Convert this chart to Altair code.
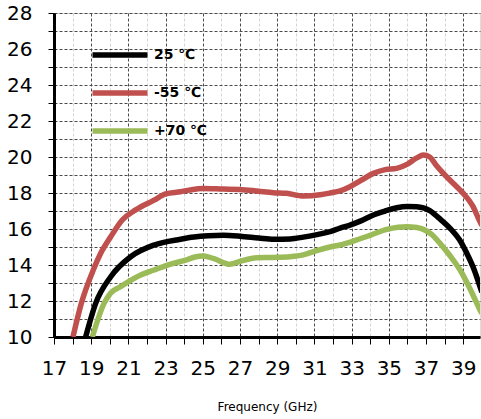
import altair as alt
import pandas as pd

# Gain vs frequency at three temperatures
series = ["25 ℃", "-55 ℃", "+70 ℃"]
colors = ["#000000", "#C0504D", "#9BBB59"]

freq_25 = [18.7, 19.24, 20.05, 21.12, 22.38, 23.8, 24.53, 25.3, 26.1, 27.0, 28.0, 28.8,
           29.7, 30.4, 31.2, 31.84, 32.38, 32.91, 33.5, 34.17, 34.8, 35.42, 36.0, 36.5,
           37.2, 37.7, 38.29, 38.8, 39.19, 39.6, 39.9, 40.0]
gain_25 = [10.0, 11.87, 13.35, 14.46, 15.11, 15.43, 15.55, 15.62, 15.65, 15.6, 15.5, 15.43,
           15.45, 15.55, 15.7, 15.85, 16.05, 16.22, 16.45, 16.78, 17.0, 17.18, 17.25, 17.24,
           17.02, 16.6, 16.04, 15.4, 14.65, 13.7, 12.8, 12.5]

freq_m55 = [18.02, 18.47, 19.11, 19.51, 20.05, 20.67, 21.39, 22.38, 23.0, 23.8, 24.31, 25.0,
            26.1, 27.0, 28.0, 28.8, 29.5, 30.4, 31.3, 31.84, 32.38, 32.91, 33.5, 34.17,
            34.8, 35.42, 36.0, 36.5, 36.86, 37.2, 37.5, 37.93, 38.5, 39.0, 39.5, 39.9, 40.0]
gain_m55 = [10.0, 11.87, 13.72, 14.65, 15.57, 16.5, 17.06, 17.6, 17.95, 18.07, 18.17, 18.25,
            18.22, 18.2, 18.1, 18.02, 17.98, 17.83, 17.9, 18.0, 18.12, 18.35, 18.7, 19.09,
            19.3, 19.37, 19.6, 19.95, 20.11, 20.0, 19.6, 19.09, 18.5, 17.98, 17.3, 16.4, 16.2]

freq_p70 = [19.06, 19.69, 20.05, 20.58, 21.66, 22.38, 23.27, 24.17, 24.53, 25.03, 25.6, 26.46,
            27.0, 27.9, 28.8, 29.69, 30.4, 31.12, 31.84, 32.38, 33.27, 34.0, 34.89, 35.5,
            35.96, 36.5, 36.86, 37.3, 37.75, 38.3, 38.83, 39.4, 39.9, 40.0]
gain_p70 = [10.0, 11.87, 12.45, 12.8, 13.44, 13.72, 14.05, 14.3, 14.43, 14.5, 14.35, 14.04,
            14.2, 14.4, 14.42, 14.46, 14.56, 14.8, 15.0, 15.11, 15.39, 15.65, 15.98, 16.1,
            16.13, 16.08, 15.98, 15.7, 15.2, 14.5, 13.72, 12.6, 11.5, 11.3]

x_ticks = list(range(17, 40))
y_ticks = list(range(10, 29))

frames = []
for name, fx, gy in zip(series, [freq_25, freq_m55, freq_p70], [gain_25, gain_m55, gain_p70]):
    frames.append(pd.DataFrame({"freq": fx, "gain": gy, "series": name}))
df = pd.concat(frames, ignore_index=True)
df["order"] = df.index

FONT = "DejaVu Sans"

x_axis = alt.Axis(
    values=x_ticks,
    labelExpr="datum.value % 2 == 1 ? datum.label : ''",
    labelOverlap=False,
    labelFlush=False,
    labelFontSize=20,
    labelFont=FONT,
    labelColor="black",
    labelPadding=14,
    tickSize=7,
    tickColor="black",
    domainColor="black",
    domainWidth=3,
    grid=True,
    gridColor={"condition": {"test": "datum.value % 2 == 1", "value": "#4a4a4a"}, "value": "#d4d4d4"},
    gridDash=[3, 2],
    gridWidth=1,
    title="Frequency (GHz)",
    titleFont=FONT,
    titleFontSize=12,
    titleFontWeight="normal",
    titleColor="black",
    titleBaseline="alphabetic",
    titleY=73,
)

y_axis = alt.Axis(
    values=y_ticks,
    labelExpr="datum.value % 2 == 0 ? datum.label : ''",
    labelOverlap=False,
    labelFlush=False,
    labelFontSize=20,
    labelFont=FONT,
    labelColor="black",
    labelPadding=16,
    tickSize=6,
    tickColor="black",
    domainColor="black",
    domainWidth=3,
    grid=True,
    gridColor="#4a4a4a",
    gridDash=[3, 2],
    gridWidth=1,
    title=None,
)

chart = alt.Chart(df).mark_line(
    strokeWidth=5.5, interpolate="monotone", clip=True, strokeJoin="round"
).encode(
    x=alt.X("freq:Q", scale=alt.Scale(domain=[17, 39.9], nice=False, zero=False), axis=x_axis),
    y=alt.Y("gain:Q", scale=alt.Scale(domain=[10, 28], nice=False, zero=False), axis=y_axis),
    color=alt.Color(
        "series:N",
        scale=alt.Scale(domain=series, range=colors),
        sort=series,
        legend=alt.Legend(
            title=None,
            orient="none",
            legendX=58,
            legendY=34,
            padding=0,
            symbolType="M-5.5,0L5.5,0",
            symbolSize=100,
            symbolStrokeWidth=5.5,
            labelFont=FONT,
            labelFontSize=14,
            labelFontWeight="bold",
            labelColor="black",
            labelOffset=26,
            rowPadding=16,
        ),
    ),
    order="order:Q",
).properties(
    width=426,
    height=324,
    autosize="none",
    padding={"left": 54, "top": 13, "right": 1, "bottom": 82},
).configure_view(
    stroke="black", strokeWidth=3
).configure(background="white")

chart.save("out.html", embed_options={"renderer": "svg", "actions": False})
